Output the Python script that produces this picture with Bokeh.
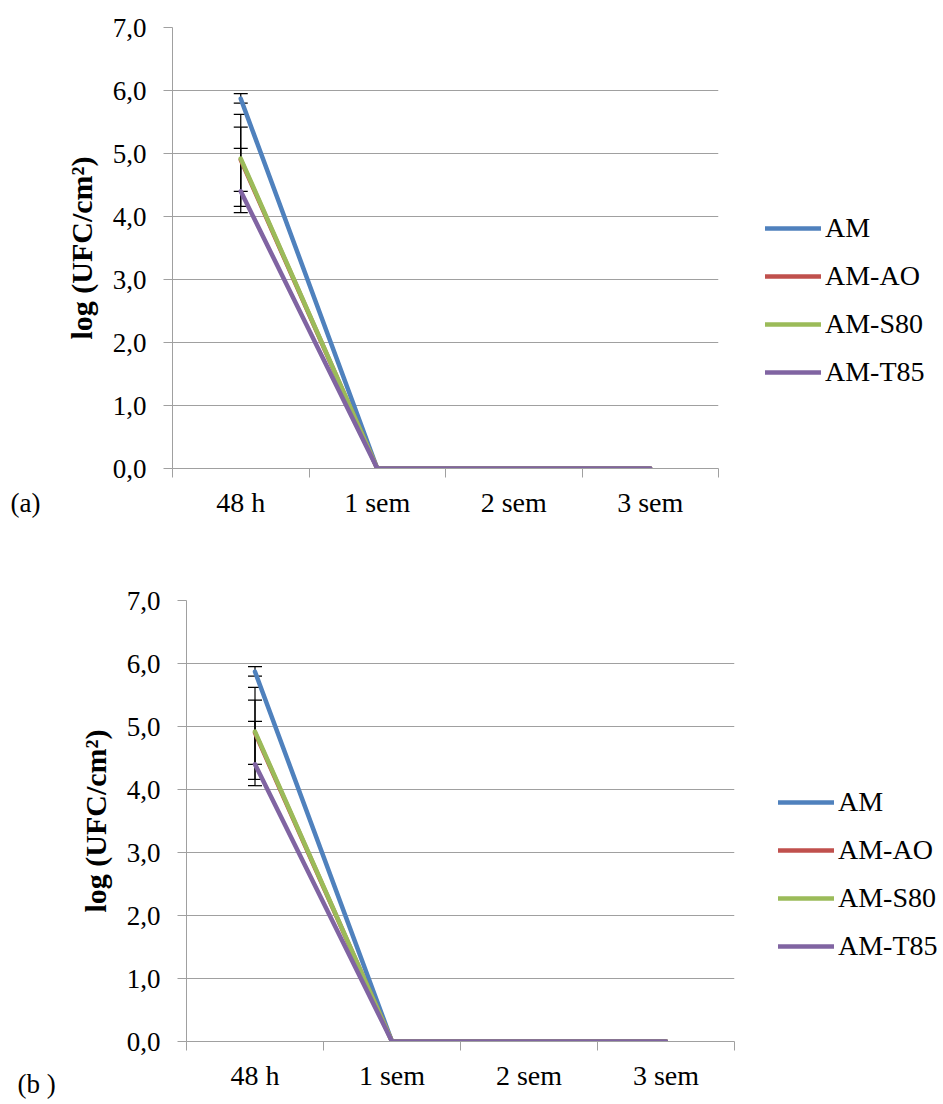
from bokeh.plotting import figure
from bokeh.models import (FixedTicker, Legend, LegendItem, Whisker, TeeHead,
                          ColumnDataSource)
from bokeh.core.properties import value
from bokeh.layouts import column, row
from bokeh.embed import file_html
from bokeh.resources import INLINE

# ---- data ----
categories = ["48 h", "1 sem", "2 sem", "3 sem"]
series_names = ["AM", "AM-AO", "AM-S80", "AM-T85"]
am = [5.87, 0.0, 0.0, 0.0]
am_ao = [4.90, 0.0, 0.0, 0.0]
am_s80 = [4.92, 0.0, 0.0, 0.0]
am_t85 = [4.40, 0.0, 0.0, 0.0]
# error bar ends at 48 h (upper, lower) per series
err_upper = [5.95, 5.62, 5.42, 5.08]
err_lower = [5.80, 4.16, 4.40, 4.06]
y_ticks = [0, 1, 2, 3, 4, 5, 6, 7]
y_tick_labels = ["0,0", "1,0", "2,0", "3,0", "4,0", "5,0", "6,0", "7,0"]
colors = ["#4F81BD", "#C0504D", "#9BBB59", "#8064A2"]
panel_labels = ["(a)", "(b )"]

series = [am, am_ao, am_s80, am_t85]
FONT = "Liberation Serif"
GRID = "#a0a0a0"


def label_fig(text, w, h, x, top):
    f = figure(width=w, height=h, x_range=(0, w), y_range=(0, h),
               output_backend="svg", toolbar_location=None,
               min_border=0, x_axis_type=None, y_axis_type=None)
    f.outline_line_color = None
    f.grid.visible = False
    f.text(x=[x], y=[h - top], text=[text], text_font=value(FONT),
           text_font_size="27px", text_color="black",
           text_baseline="top", text_align="left")
    return f


def make_panel(bl, bt, fw, fh, br, bb, leg_xy):
    p = figure(frame_width=fw, frame_height=fh, x_range=(0, len(categories)),
               y_range=(0, 7), output_backend="svg", toolbar_location=None,
               min_border_left=bl, min_border_top=bt, min_border_right=br,
               min_border_bottom=bb)
    p.outline_line_color = None

    xs = [i + 0.5 for i in range(len(categories))]
    bounds = [i for i in range(len(categories) + 1)]

    # x axis
    xa = p.xaxis[0]
    xa.ticker = FixedTicker(ticks=xs, minor_ticks=bounds)
    xa.major_label_overrides = {x: c for x, c in zip(xs, categories)}
    xa.major_tick_out = 0
    xa.major_tick_in = 0
    xa.minor_tick_out = 9
    xa.minor_tick_in = 0
    xa.minor_tick_line_color = GRID
    xa.axis_line_color = GRID
    xa.major_label_text_font = FONT
    xa.major_label_text_font_size = "28px"
    xa.major_label_text_color = "black"
    xa.major_label_standoff = 9

    # y axis
    ya = p.yaxis[0]
    ya.ticker = FixedTicker(ticks=y_ticks, minor_ticks=[])
    ya.major_label_overrides = {t: l for t, l in zip(y_ticks, y_tick_labels)}
    ya.major_tick_out = 9
    ya.major_tick_in = 0
    ya.major_tick_line_color = GRID
    ya.axis_line_color = GRID
    ya.major_label_text_font = FONT
    ya.major_label_text_font_size = "27px"
    ya.major_label_text_color = "black"
    ya.major_label_standoff = 17
    ya.axis_label = "log (UFC/cm²)"
    ya.axis_label_text_font = FONT
    ya.axis_label_text_font_style = "bold"
    ya.axis_label_text_font_size = "30px"
    ya.axis_label_text_color = "black"
    ya.axis_label_standoff = 12

    p.xgrid.visible = False
    p.ygrid.ticker = FixedTicker(ticks=y_ticks)
    p.ygrid.grid_line_color = GRID

    items = []
    for name, vals, col in zip(series_names, series, colors):
        r = p.line(xs, vals, line_color=col, line_width=4.5, line_cap="round",
                   line_join="round")
        items.append(LegendItem(label=name, renderers=[r]))

    src = ColumnDataSource(dict(x=[xs[0]] * len(series_names),
                                upper=err_upper, lower=err_lower))
    w = Whisker(base="x", upper="upper", lower="lower", source=src,
                line_color="black", line_width=1.2,
                upper_head=TeeHead(size=14, line_color="black", line_width=1.2),
                lower_head=TeeHead(size=14, line_color="black", line_width=1.2))
    p.add_layout(w)

    leg = Legend(items=items, location=leg_xy, orientation="vertical",
                 glyph_width=56, glyph_height=40, label_height=40,
                 spacing=8, padding=0, margin=0, label_standoff=4,
                 label_text_font=FONT, label_text_font_size="28px",
                 label_text_color="black", border_line_color=None,
                 background_fill_alpha=0)
    p.add_layout(leg, "right")
    return p


LW1, LW2 = 50, 60
p1 = make_panel(172 - LW1, 27, 546, 441, 217, 92, (47, 76))
p2 = make_panel(186 - LW2, 40, 548, 441, 195, 63, (44, 75))
l1 = label_fig(panel_labels[0], LW1, 560, 10, 487)
l2 = label_fig(panel_labels[1], LW2, 544, 17, 508)

layout = column(row(column(l1), p1), row(column(l2), p2), spacing=0)
open("out.html", "w").write(file_html(layout, INLINE))
